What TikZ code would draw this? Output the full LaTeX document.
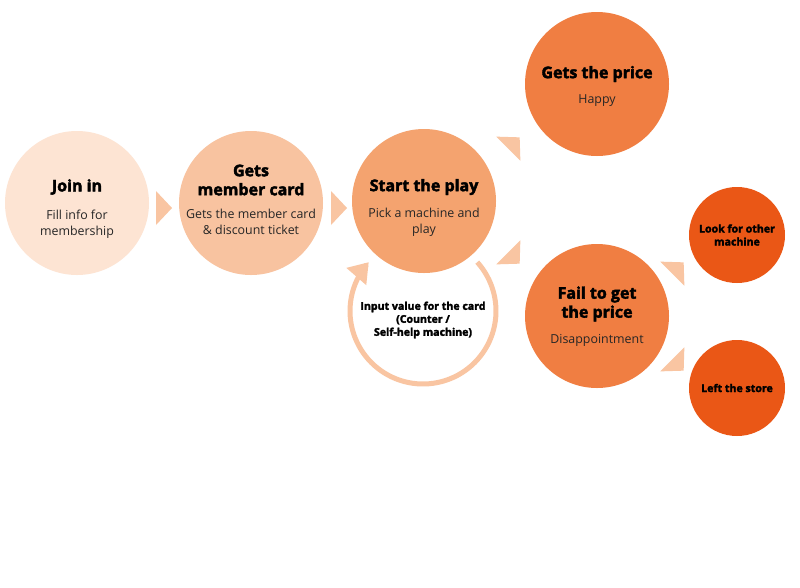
\documentclass[tikz,border=0pt]{standalone}
\usepackage{fontspec}
\setmainfont{Open Sans}
\newfontfamily\heavyfont{Open Sans}[BoldFeatures={FakeBold=2.5}]
\usetikzlibrary{arrows.meta}
\definecolor{cA}{HTML}{FDE4D3}
\definecolor{cB}{HTML}{F8C3A0}
\definecolor{cC}{HTML}{F4A36F}
\definecolor{cD}{HTML}{F07E42}
\definecolor{cE}{HTML}{EA5716}
\definecolor{cT}{HTML}{F9C5A2}
\begin{document}
\begin{tikzpicture}[x=1pt,y=-1pt,
  big/.style={circle, minimum size=144pt, inner sep=0pt, draw=none},
  small/.style={circle, minimum size=96pt, inner sep=0pt, draw=none, fill=cE},
  head/.style={align=center, inner sep=0pt, text=black, font=\heavyfont\bfseries\fontsize{16}{19}\selectfont},
  body/.style={align=center, inner sep=0pt, text=black!85, font=\fontsize{12.4}{16}\selectfont},
  stxt/.style={align=center, inner sep=0pt, text=black, font=\heavyfont\bfseries\fontsize{10.6}{13}\selectfont},
  tri/.style={fill=cT, draw=none},
  loopline/.style={draw=cT, line width=5pt}
]
\fill[white] (0,0) rectangle (800,587);
\useasboundingbox (0,0) rectangle (800,587);

% loop connector (drawn first, under circle 3)
\coordinate (lc) at (423,311);
\draw[loopline, -{Triangle[width=25pt,length=19pt]}]
  plot[domain=-42:222, samples=80, smooth] ({423+73*cos(\x)},{311+73*sin(\x)});

% circles
\node[big, fill=cA] (c1) at (77,203) {};
\node[big, fill=cB] (c2) at (251,203) {};
\node[big, fill=cC] (c3) at (424,201) {};
\node[big, fill=cD] (c4) at (597,84) {};
\node[big, fill=cD] (c5) at (597,316) {};
\node[small] (s1) at (737,235) {};
\node[small] (s2) at (737,388) {};

% triangle connectors
\coordinate (a12) at (164,208);
\coordinate (a23) at (339,208);
\coordinate (a34) at (514,143);
\coordinate (a35) at (514,258);
\coordinate (a51) at (678,268);
\coordinate (a52) at (678,365);
\foreach \p/\r in {a12/0, a23/0, a34/45, a35/-45, a51/45, a52/-45}{
  \fill[tri, shift={(\p)}, rotate=\r] (-8,-17) -- (8,0) -- (-8,17) -- cycle;
}

% texts
\node[head] (h1) at (77,187) {Join in};
\node[body] (b1) at (77,224) {Fill info for\\membership};
\node[head] (h2) at (251,180) {Gets\\member card};
\node[body] (b2) at (251,222) {Gets the member card\\\& discount ticket};
\node[head] (h3) at (424,187) {Start the play};
\node[body] (b3) at (424,222) {Pick a machine and\\play};
\node[head] (h4) at (597,74) {Gets the price};
\node[body] (b4) at (597,101) {Happy};
\node[head] (h5) at (597,304) {Fail to get\\the price};
\node[body] (b5) at (597,340) {Disappointment};
\node[stxt] (ts1) at (737,235) {Look for other\\machine};
\node[stxt] (ts2) at (737,388) {Left the store};
\node[stxt] (tl) at (423,320) {Input value for the card\\(Counter /\\Self-help machine)};
\end{tikzpicture}
\end{document}
